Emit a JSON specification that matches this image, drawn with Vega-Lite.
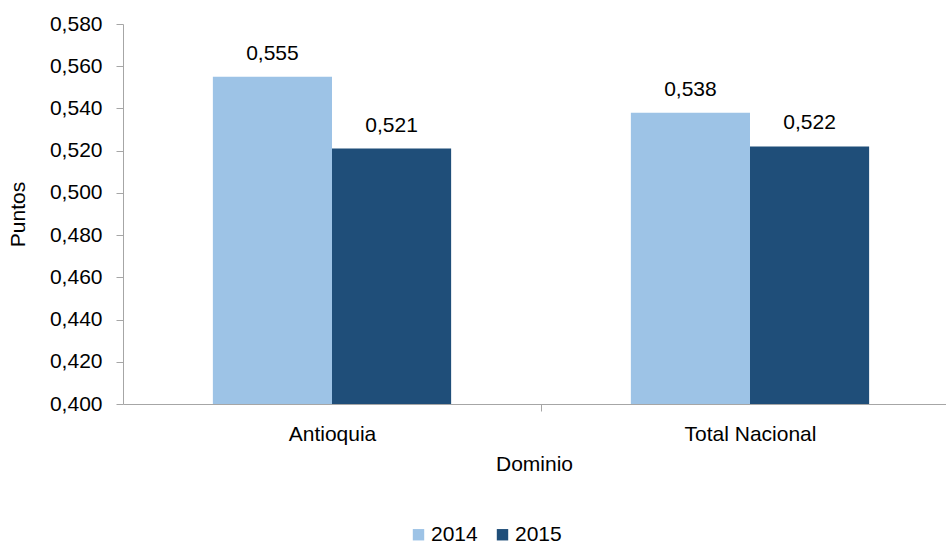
{
  "$schema": "https://vega.github.io/schema/vega-lite/v6.json",
  "width": 822,
  "height": 380,
  "autosize": {"type": "none"},
  "padding": {"left": 123, "top": 24, "right": 1, "bottom": 140},
  "background": "white",
  "config": {
    "locale": {"number": {"decimal": ",", "thousands": ".", "grouping": [3], "currency": ["$", ""]}},
    "font": "Liberation Sans",
    "view": {"stroke": null}
  },
  "data": {
    "values": [
      {"Dominio": "Antioquia", "Año": "2014", "Puntos": 0.555},
      {"Dominio": "Antioquia", "Año": "2015", "Puntos": 0.521},
      {"Dominio": "Total Nacional", "Año": "2014", "Puntos": 0.538},
      {"Dominio": "Total Nacional", "Año": "2015", "Puntos": 0.522}
    ]
  },
  "encoding": {
    "x": {
      "field": "Dominio", "type": "nominal",
      "scale": {"range": [0, 836], "paddingInner": 0.43, "paddingOuter": 0.215},
      "axis": {
        "title": "Dominio", "labelAngle": 0, "labelFontSize": 21, "titleFontSize": 21,
        "titleFontWeight": "normal", "labelColor": "black", "titleColor": "black",
        "domainColor": "#a6a6a6", "tickColor": "#a6a6a6", "tickSize": 7,
        "tickOffset": 209, "labelOffset": -209, "labelPadding": 12, "titlePadding": 9,
        "titleX": 411
      }
    },
    "xOffset": {"field": "Año", "type": "nominal"},
    "y": {
      "field": "Puntos", "type": "quantitative",
      "scale": {"domain": [0.4, 0.58], "zero": false, "nice": false},
      "axis": {
        "title": "Puntos", "format": ".3f", "values": [0.4, 0.42, 0.44, 0.46, 0.48, 0.5, 0.52, 0.54, 0.56, 0.58],
        "grid": false, "labelFontSize": 21, "titleFontSize": 21, "titleFontWeight": "normal",
        "labelColor": "black", "titleColor": "black", "domainColor": "#a6a6a6", "tickColor": "#a6a6a6",
        "tickSize": 7, "labelPadding": 14, "titleX": -95
      }
    }
  },
  "layer": [
    {
      "mark": {"type": "bar", "clip": true},
      "encoding": {
        "color": {
          "field": "Año", "type": "nominal",
          "scale": {"domain": ["2014", "2015"], "range": ["#9DC3E6", "#1F4E79"]},
          "legend": {
            "title": null, "orient": "none", "legendX": 285, "legendY": 500, "direction": "horizontal", "symbolType": "square",
            "symbolSize": 130, "symbolStrokeWidth": 0, "labelFontSize": 21, "labelColor": "black",
            "columnPadding": 14, "labelOffset": 2
          }
        }
      }
    },
    {
      "mark": {"type": "text", "baseline": "alphabetic", "dy": -17, "fontSize": 21, "color": "black"},
      "encoding": {
        "text": {"field": "Puntos", "type": "quantitative", "format": ".3f"}
      }
    }
  ]
}
